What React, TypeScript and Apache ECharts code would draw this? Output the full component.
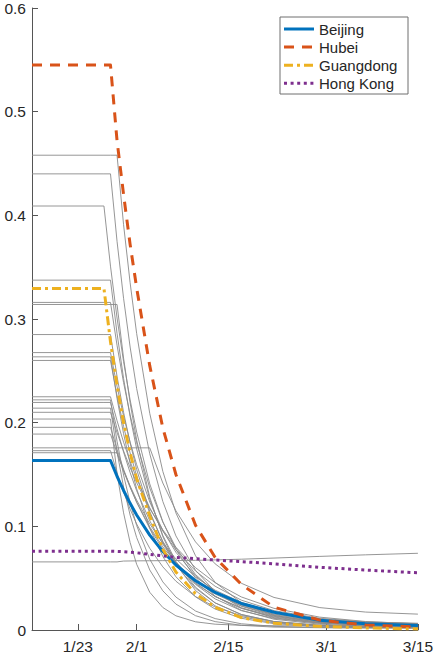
import React, { useEffect, useRef } from "react";
import * as echarts from "echarts";

// Day index: 0 = Jan 16, 2020
const DAYS = [0, 11, 12, 13, 14, 15, 16, 18, 20, 22, 25, 28, 32, 37, 44, 51, 59];

const X_TICK_DAYS = [7, 16, 30, 45, 59];
const X_TICK_LABELS = ["1/23", "2/1", "2/15", "3/1", "3/15"];

const BEIJING = [0.1635, 0.1635, 0.1635, 0.1483, 0.1346, 0.1222, 0.1109, 0.0915, 0.0757, 0.0627, 0.0475, 0.0362, 0.0256, 0.0171, 0.0095, 0.006, 0.0043];
const HUBEI = [0.545, 0.545, 0.545, 0.472, 0.42, 0.372, 0.33, 0.255, 0.195, 0.150, 0.101, 0.070, 0.044, 0.022, 0.0095, 0.0048, 0.003];
const GUANGDONG = [0.3295, 0.3295, 0.278, 0.236, 0.200, 0.171, 0.146, 0.110, 0.078, 0.056, 0.035, 0.022, 0.012, 0.0065, 0.0035, 0.002, 0.001];
const HONG_KONG = [0.076, 0.076, 0.076, 0.0758, 0.0755, 0.075, 0.0745, 0.073, 0.0715, 0.070, 0.0688, 0.0675, 0.066, 0.0638, 0.0605, 0.0578, 0.0552];

const OTHERS = [
  [0.458, 0.458, 0.458, 0.458, 0.391, 0.335, 0.286, 0.209, 0.153, 0.113, 0.0716, 0.046, 0.0263, 0.0141, 0.0073, 0.0051, 0.0043],
  [0.44, 0.44, 0.44, 0.375, 0.320, 0.273, 0.233, 0.170, 0.124, 0.0908, 0.0576, 0.037, 0.0213, 0.0118, 0.0065, 0.0048, 0.0042],
  [0.409, 0.409, 0.351, 0.301, 0.259, 0.222, 0.191, 0.141, 0.1045, 0.0775, 0.050, 0.0327, 0.019, 0.0104, 0.0056, 0.0039, 0.0032],
  [0.3375, 0.3375, 0.3375, 0.2862, 0.2427, 0.2059, 0.1747, 0.1261, 0.0912, 0.0662, 0.0413, 0.0262, 0.0149, 0.0082, 0.0046, 0.0035, 0.0031],
  [0.316, 0.316, 0.316, 0.2746, 0.2387, 0.2076, 0.1806, 0.137, 0.1042, 0.0795, 0.0535, 0.0366, 0.0229, 0.0137, 0.0082, 0.0062, 0.0054],
  [0.314, 0.314, 0.314, 0.314, 0.2623, 0.2192, 0.1833, 0.1283, 0.0901, 0.0636, 0.0381, 0.0233, 0.0128, 0.0069, 0.0041, 0.0033, 0.003],
  [0.285, 0.285, 0.285, 0.2446, 0.210, 0.1804, 0.1549, 0.1144, 0.0847, 0.0628, 0.0403, 0.0261, 0.015, 0.008, 0.0041, 0.0027, 0.0022],
  [0.2676, 0.2676, 0.2676, 0.235, 0.2064, 0.1813, 0.1595, 0.1235, 0.096, 0.075, 0.0522, 0.037, 0.0242, 0.0153, 0.0097, 0.0074, 0.0065],
  [0.2635, 0.2635, 0.2635, 0.2234, 0.1894, 0.1606, 0.1363, 0.0982, 0.0709, 0.0514, 0.032, 0.0202, 0.0113, 0.0061, 0.0033, 0.0024, 0.0021],
  [0.26, 0.26, 0.26, 0.2259, 0.1964, 0.1708, 0.1486, 0.1126, 0.0856, 0.0654, 0.044, 0.03, 0.0187, 0.0112, 0.0066, 0.005, 0.0043],
  [0.225, 0.225, 0.225, 0.2019, 0.1812, 0.1626, 0.1461, 0.1179, 0.0954, 0.0774, 0.0569, 0.0422, 0.0288, 0.0187, 0.0113, 0.0079, 0.0062],
  [0.222, 0.222, 0.222, 0.1821, 0.1495, 0.1227, 0.1008, 0.0683, 0.0464, 0.0318, 0.0183, 0.011, 0.006, 0.0035, 0.0024, 0.0021, 0.002],
  [0.2195, 0.2195, 0.2195, 0.1941, 0.1716, 0.1518, 0.1343, 0.1053, 0.0827, 0.065, 0.0456, 0.0323, 0.0208, 0.0125, 0.007, 0.0046, 0.0036],
  [0.214, 0.214, 0.214, 0.1718, 0.1379, 0.1108, 0.0892, 0.0579, 0.0378, 0.025, 0.0138, 0.0081, 0.0045, 0.0028, 0.0022, 0.002, 0.002],
  [0.21, 0.21, 0.21, 0.1904, 0.1727, 0.1566, 0.1421, 0.1171, 0.0966, 0.0798, 0.0601, 0.0456, 0.0319, 0.0209, 0.0124, 0.0082, 0.0059],
  [0.2035, 0.2035, 0.2035, 0.151, 0.113, 0.0844, 0.0634, 0.0364, 0.0217, 0.0137, 0.0079, 0.0056, 0.0045, 0.0041, 0.004, 0.004, 0.0036],
  [0.1955, 0.1955, 0.1955, 0.1741, 0.1551, 0.1383, 0.1232, 0.098, 0.0781, 0.0623, 0.0447, 0.0323, 0.0213, 0.0132, 0.0074, 0.0049, 0.0038],
  [0.189, 0.189, 0.189, 0.1705, 0.1539, 0.1389, 0.1254, 0.1024, 0.0837, 0.0686, 0.0511, 0.0384, 0.0266, 0.0173, 0.0104, 0.007, 0.0053],
  [0.1757, 0.1757, 0.1757, 0.1757, 0.1757, 0.1757, 0.1757, 0.1757, 0.1418, 0.115, 0.085, 0.0638, 0.0451, 0.0314, 0.0216, 0.0173, 0.0153],
  [0.173, 0.173, 0.173, 0.1517, 0.133, 0.1166, 0.1023, 0.0788, 0.0609, 0.0471, 0.0322, 0.0222, 0.0139, 0.0081, 0.0044, 0.0029, 0.0023],
  [0.171, 0.171, 0.171, 0.171, 0.1533, 0.1375, 0.1234, 0.0994, 0.0802, 0.0648, 0.0473, 0.0347, 0.0233, 0.0147, 0.0084, 0.0055, 0.004],
  [0.0657, 0.0657, 0.0657, 0.0657, 0.0665, 0.0666, 0.0667, 0.0668, 0.0669, 0.067, 0.0672, 0.0676, 0.0683, 0.0694, 0.071, 0.0725, 0.074],
];

const LEGEND_NAMES = ["Beijing", "Hubei", "Guangdong", "Hong Kong"];
const LEGEND_COLORS = ["#0072BD", "#D95319", "#EDB120", "#7E2F8E"];
const LEGEND_DASHES: (number[] | null)[] = [null, [10, 8], [9, 4, 3, 4], [3, 3.6]];

const FONT = "'Liberation Sans', Arial, Helvetica, sans-serif";
const TEXT_COLOR = "#262626";

export default function App() {
  const ref = useRef<HTMLDivElement>(null);

  useEffect(() => {
    if (!ref.current) return;
    const chart = echarts.init(ref.current, null, { renderer: "svg" });
    const pts = (vals: number[]) => DAYS.map((d, i) => [d, vals[i]]);

    const grayMarks = OTHERS.map((vals, i) => ({
      type: "line",
      name: "other-" + i,
      data: pts(vals),
      symbol: "none",
      silent: true,
      lineStyle: { color: "#8a8a8a", width: 0.9 },
      z: 1,
    }));

    const mainMarks = LEGEND_NAMES.map((name, i) => ({
      type: "line",
      name,
      data: pts([BEIJING, HUBEI, GUANGDONG, HONG_KONG][i]),
      symbol: "none",
      silent: true,
      lineStyle: {
        color: LEGEND_COLORS[i],
        width: 3,
        type: LEGEND_DASHES[i] ?? "solid",
        cap: "butt",
        join: "round",
      },
      z: 3,
    }));

    // legend box drawn as graphic
    const boxLeft = 280;
    const boxTop = 17;
    const boxW = 128;
    const boxH = 77;
    const rowY0 = 29;
    const rowStep = 18.1;
    const legendChildren: any[] = [
      {
        type: "rect",
        shape: { x: boxLeft, y: boxTop, width: boxW, height: boxH },
        style: { fill: "#ffffff", stroke: "#6e6e6e", lineWidth: 1 },
      },
    ];
    LEGEND_NAMES.forEach((name, i) => {
      const y = rowY0 + i * rowStep;
      legendChildren.push({
        type: "line",
        shape: { x1: boxLeft + 4, y1: y, x2: boxLeft + 34, y2: y },
        style: {
          stroke: LEGEND_COLORS[i],
          lineWidth: 3,
          lineDash: LEGEND_DASHES[i] ?? undefined,
          lineCap: "butt",
        },
      });
      legendChildren.push({
        type: "text",
        x: boxLeft + 39,
        y,
        style: {
          text: name,
          fill: TEXT_COLOR,
          font: `15px ${FONT}`,
          verticalAlign: "middle",
          align: "left",
        },
      });
    });

    chart.setOption({
      animation: false,
      textStyle: { fontFamily: FONT },
      grid: { left: 32, top: 6, right: 17, bottom: 24, containLabel: false },
      xAxis: {
        type: "value",
        min: 0,
        max: 59,
        splitLine: { show: false },
        axisLine: { lineStyle: { color: "#555555", width: 1 } },
        axisTick: { inside: true, length: 6, customValues: X_TICK_DAYS, lineStyle: { color: "#555555" } },
        axisLabel: {
          customValues: X_TICK_DAYS,
          formatter: (v: number) => {
            const i = X_TICK_DAYS.indexOf(Math.round(v));
            return i >= 0 ? X_TICK_LABELS[i] : "";
          },
          fontSize: 15.5,
          color: TEXT_COLOR,
          fontFamily: FONT,
          margin: 8,
        },
      },
      yAxis: {
        type: "value",
        min: 0,
        max: 0.6,
        interval: 0.1,
        splitLine: { show: false },
        axisLine: { show: true, lineStyle: { color: "#555555", width: 1 } },
        axisTick: { show: true, inside: true, length: 6, lineStyle: { color: "#555555" } },
        axisLabel: {
          formatter: (v: number) => String(+v.toFixed(1)),
          fontSize: 15.5,
          color: TEXT_COLOR,
          fontFamily: FONT,
          margin: 6,
        },
      },
      graphic: [{ type: "group", z: 100, children: legendChildren }],
      series: [...grayMarks, ...mainMarks],
    });

    return () => chart.dispose();
  }, []);

  return (
    <div
      ref={ref}
      style={{ position: "fixed", left: 0, top: 0, width: 436, height: 654, background: "#ffffff" }}
    />
  );
}
